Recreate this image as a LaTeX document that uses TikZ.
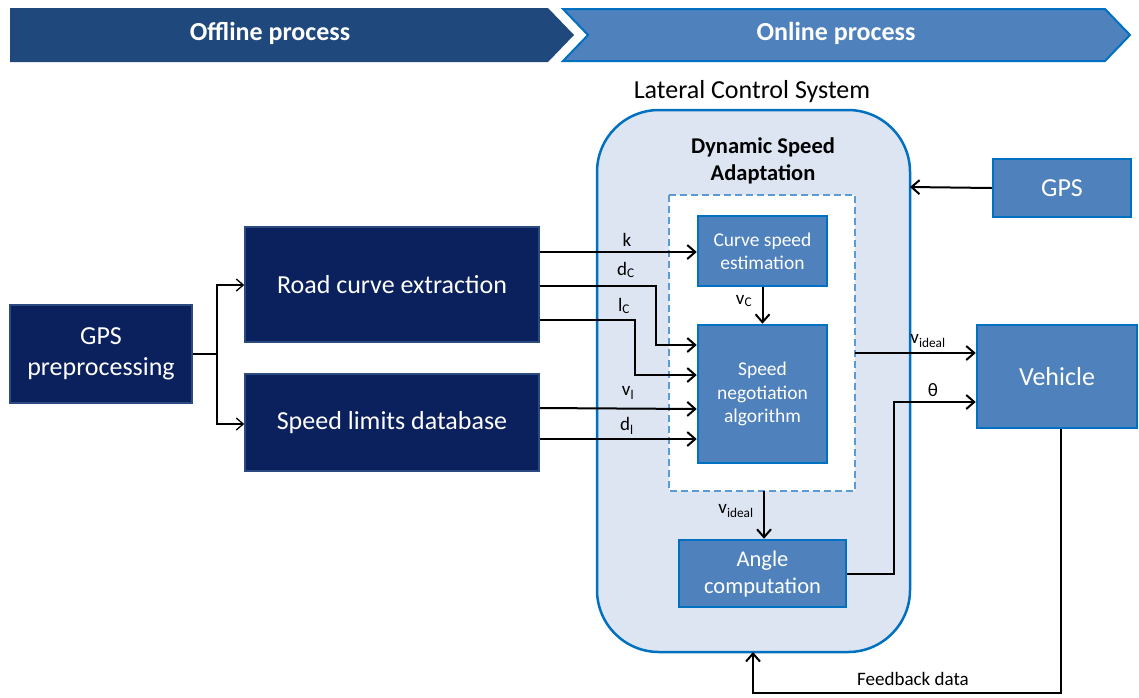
\documentclass[tikz,border=0pt]{standalone}
\usepackage{fontspec}
\setmainfont{Carlito}
\usetikzlibrary{arrows.meta}
\definecolor{navy}{HTML}{0B215E}
\definecolor{navyedge}{HTML}{2A4A80}
\definecolor{banner}{HTML}{1F497D}
\definecolor{mid}{HTML}{4F81BD}
\definecolor{edgeblue}{HTML}{0070C0}
\definecolor{lcsfill}{HTML}{DCE5F1}
\definecolor{dashblue}{HTML}{5B9BD5}
\tikzset{
  darkbox/.style={draw=navyedge, line width=1.5pt, fill=navy, text=white, align=center, inner sep=0pt, font=\fontsize{26}{31}\selectfont},
  midbox/.style={draw=edgeblue, line width=2.5pt, fill=mid, text=white, align=center, inner sep=0pt},
  thin/.style={line width=1.3pt, -{Straight Barb[length=7pt,width=12pt,line width=1.3pt]}},
  thick/.style={line width=2pt, -{Straight Barb[length=8pt,width=14pt,line width=2pt]}},
  lab/.style={font=\fontsize{19}{22}\selectfont, inner sep=1pt},
}
\begin{document}
\begin{tikzpicture}[x=1pt,y=-1pt]
\useasboundingbox (0,0) rectangle (1139,697);
% banners
\fill[banner] (10,8) -- (548,8) -- (574,35) -- (548,62) -- (10,62) -- cycle;
\node[text=white, font=\fontsize{26}{30}\selectfont\bfseries] (off) at (270,33) {Offline process};
\draw[fill=mid, draw=edgeblue, line width=2pt] (563,9) -- (1105,9) -- (1130,35) -- (1105,61) -- (563,61) -- (588,35) -- cycle;
\node[text=white, font=\fontsize{26}{30}\selectfont\bfseries] (on) at (836,33) {Online process};
% LCS
\draw[fill=lcsfill, draw=edgeblue, line width=2.5pt, rounded corners=62pt] (597,110) rectangle (910,652);
\node[font=\fontsize{26}{30}\selectfont] (lcsl) at (752,92) {Lateral Control System};
\node[font=\fontsize{22.5}{27}\selectfont\bfseries, align=center] (dsa) at (763,161) {Dynamic Speed\\Adaptation};
\draw[fill=white, draw=dashblue, line width=2pt, dash pattern=on 7pt off 4pt] (669,195) rectangle (855,491);
\coordinate (dashE) at (855,353);
\coordinate (dashS) at (764,491);
% nodes
\node[darkbox, minimum width=182pt, minimum height=98pt] (gpsp) at (101,354) {GPS\\preprocessing};
\node[darkbox, minimum width=294pt, minimum height=115pt] (road) at (392,284.5) {Road curve extraction};
\node[darkbox, minimum width=294pt, minimum height=97pt] (speed) at (392,422.5) {Speed limits database};
\node[midbox, minimum width=129pt, minimum height=70pt, font=\fontsize{19.5}{23}\selectfont] (cse) at (762.5,251) {Curve speed\\estimation};
\node[midbox, minimum width=129pt, minimum height=138pt, font=\fontsize{19.5}{23.5}\selectfont] (sna) at (762.5,394) {Speed\\negotiation\\algorithm};
\node[midbox, minimum width=167pt, minimum height=67pt, font=\fontsize{22.5}{27}\selectfont] (ang) at (762.5,573.5) {Angle\\computation};
\node[midbox, minimum width=138pt, minimum height=58pt, font=\fontsize{26}{30}\selectfont] (gps) at (1062,188) {GPS};
\node[midbox, minimum width=160pt, minimum height=103pt, font=\fontsize{26}{30}\selectfont] (veh) at (1057,376.5) {Vehicle};
\coordinate (lcsE) at (910,187);
\coordinate (lcsS) at (753,652);
% left connectors
\draw[thin] (gpsp.east) -- (217,354) |- (road.west |- 0,285);
\draw[thin] (217,354) |- (speed.west |- 0,424);
% inputs
\draw[thick] (road.east |- 0,252) -- (cse.west |- 0,252);
\node[lab] (kl) at (627,240) {k};
\draw[thick] (road.east |- 0,286) -- (656,286) |- (sna.west |- 0,345);
\node[lab] (dcl) at (626,270) {d\textsubscript{C}};
\draw[thick] (road.east |- 0,320) -- (635,320) |- (sna.west |- 0,375);
\node[lab] (lcl) at (624,306) {l\textsubscript{C}};
\draw[thick] (speed.east |- 0,408) -- (sna.west |- 0,409);
\node[lab] (vll) at (628,393) {v\textsubscript{l}};
\draw[thick] (speed.east |- 0,439) -- (sna.west |- 0,439);
\node[lab] (dll) at (627,426) {d\textsubscript{l}};
% internal
\draw[thick] (cse.south) -- (sna.north);
\node[lab] (vcl) at (744,301) {v\textsubscript{C}};
\draw[thick] (dashS) -- (ang.north -| dashS);
\node[lab] (vil2) at (736,511) {v\textsubscript{ideal}};
\draw[thick] (dashE) -- (veh.west |- dashE);
\node[lab] (vil1) at (928,341) {v\textsubscript{ideal}};
\draw[thick] (ang.east) -- (894,573.5) |- (veh.west |- 0,402);
\node[lab] (thl) at (933,390) {θ};
\draw[thick] (gps.west) -- (lcsE);
\draw[thick] (veh.south -| 1061,0) -- (1061,693) -| (lcsS);
\node[lab] (fbl) at (913,679) {Feedback data};
\end{tikzpicture}
\end{document}
